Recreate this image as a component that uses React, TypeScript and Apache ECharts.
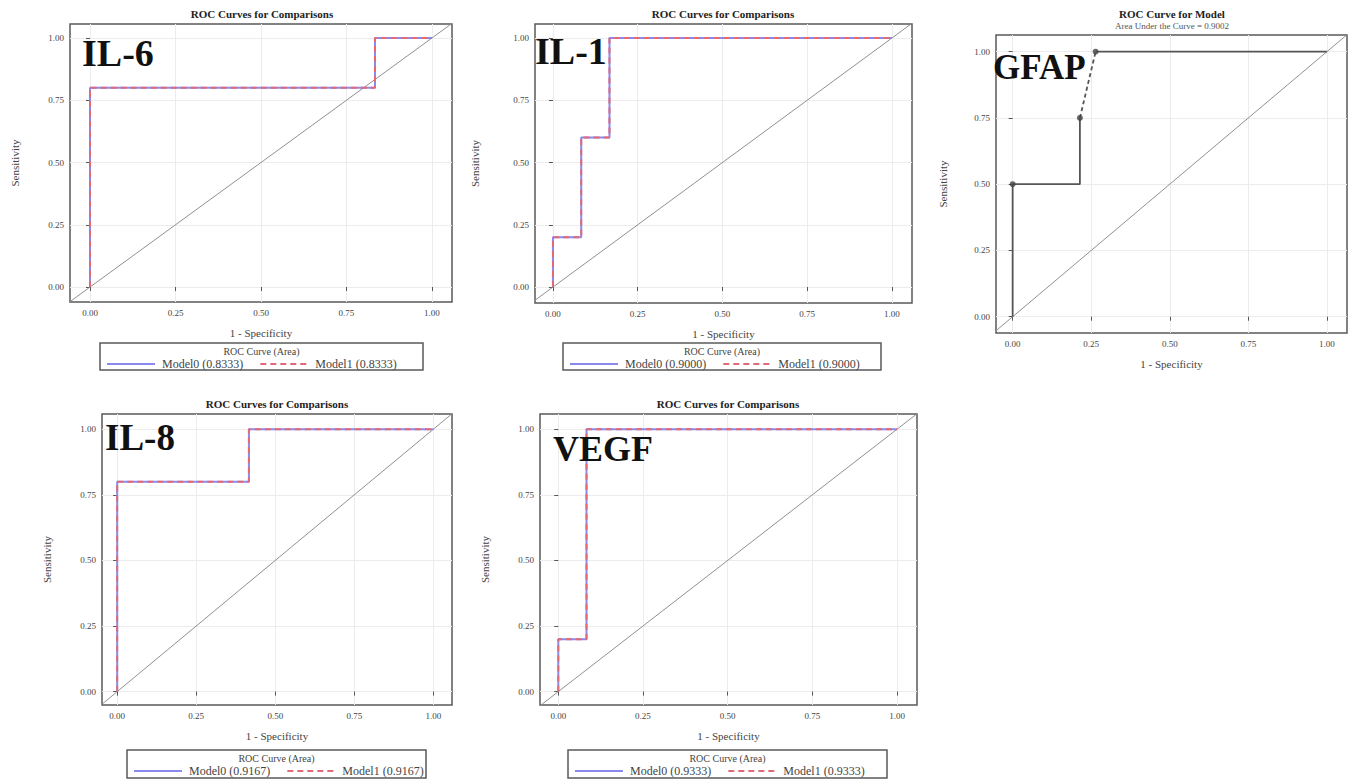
import React, { useEffect, useRef } from "react";
import * as echarts from "echarts";

// ---- data ----
const tickValues = [0, 0.25, 0.5, 0.75, 1];
const tickLabels = ["0.00", "0.25", "0.50", "0.75", "1.00"];

const il6Fpr = [0, 0, 0.8333, 0.8333, 1];
const il6Tpr = [0, 0.8, 0.8, 1, 1];
const il6Auc = "0.8333";

const il1Fpr = [0, 0, 0.0833, 0.0833, 0.1667, 0.1667, 1];
const il1Tpr = [0, 0.2, 0.2, 0.6, 0.6, 1, 1];
const il1Auc = "0.9000";

const il8Fpr = [0, 0, 0.4167, 0.4167, 1];
const il8Tpr = [0, 0.8, 0.8, 1, 1];
const il8Auc = "0.9167";

const vegfFpr = [0, 0, 0.0833, 0.0833, 1];
const vegfTpr = [0, 0.2, 0.2, 1, 1];
const vegfAuc = "0.9333";

const gfapFpr = [0, 0, 0.214, 0.214, 0.264, 1];
const gfapTpr = [0, 0.5, 0.5, 0.75, 1, 1];
const gfapAucText = "Area Under the Curve = 0.9002";

const compTitle = "ROC Curves for Comparisons";
const gfapTitle = "ROC Curve for Model";
const legendHeader = "ROC Curve (Area)";
const xName = "1 - Specificity";
const yName = "Sensitivity";

// ---- layout ----
const SERIF = "'Liberation Serif', 'Times New Roman', serif";
const BLUE = "#8a8aee";
const RED = "#e06a78";

type Panel = {
  label: string;
  fpr: number[];
  tpr: number[];
  auc?: string;
  grid: { left: number; top: number; width: number; height: number };
  x: [number, number];
  y: [number, number];
  titleX: number;
  titleY: number;
  labelX: number;
  labelY: number;
  labelSize: number;
  legendBox?: { x: number; y: number; w: number; h: number };
  yNameGap: number;
};

const panels: Panel[] = [
  {
    label: "IL-6", fpr: il6Fpr, tpr: il6Tpr, auc: il6Auc,
    grid: { left: 70, top: 24, width: 382, height: 278 },
    x: [-0.0585, 1.0585], y: [-0.06, 1.056],
    titleX: 262, titleY: 14, labelX: 82, labelY: 53, labelSize: 38,
    legendBox: { x: 100, y: 343, w: 323, h: 27 }, yNameGap: 50,
  },
  {
    label: "IL-1", fpr: il1Fpr, tpr: il1Tpr, auc: il1Auc,
    grid: { left: 535, top: 24, width: 377, height: 279 },
    x: [-0.053, 1.059], y: [-0.064, 1.056],
    titleX: 723, titleY: 14, labelX: 535, labelY: 51, labelSize: 38,
    legendBox: { x: 563, y: 343, w: 318, h: 27 }, yNameGap: 55,
  },
  {
    label: "GFAP", fpr: gfapFpr, tpr: gfapTpr,
    grid: { left: 996, top: 35, width: 351, height: 298 },
    x: [-0.053, 1.064], y: [-0.0615, 1.063],
    titleX: 1172, titleY: 14, labelX: 993, labelY: 67, labelSize: 35,
    yNameGap: 48,
  },
  {
    label: "IL-8", fpr: il8Fpr, tpr: il8Tpr, auc: il8Auc,
    grid: { left: 102, top: 414, width: 350, height: 291 },
    x: [-0.048, 1.059], y: [-0.051, 1.058],
    titleX: 277, titleY: 404, labelX: 105, labelY: 437, labelSize: 37,
    legendBox: { x: 127, y: 750, w: 299, h: 28 }, yNameGap: 50,
  },
  {
    label: "VEGF", fpr: vegfFpr, tpr: vegfTpr, auc: vegfAuc,
    grid: { left: 540, top: 414, width: 377, height: 291 },
    x: [-0.054, 1.059], y: [-0.051, 1.058],
    titleX: 728, titleY: 404, labelX: 553, labelY: 449, labelSize: 36,
    legendBox: { x: 568, y: 750, w: 319, h: 28 }, yNameGap: 50,
  },
];

const fmt = (v: number) => {
  const i = tickValues.findIndex((t) => Math.abs(t - v) < 1e-9);
  return i >= 0 ? tickLabels[i] : "";
};

const toPairs = (xs: number[], ys: number[]) => xs.map((x, i) => [x, ys[i]]);

function buildOption() {
  const grids: any[] = [];
  const xAxes: any[] = [];
  const yAxes: any[] = [];
  const series: any[] = [];
  const legends: any[] = [];
  const graphics: any[] = [];

  panels.forEach((p, i) => {
    grids.push({
      ...p.grid,
      show: true,
      borderColor: "#5a5a5a",
      borderWidth: 1.5,
      backgroundColor: "#fff",
      containLabel: false,
    });
    const axisCommon = {
      gridIndex: i,
      type: "value",
      axisLine: { show: false },
      axisTick: {
        show: true,
        customValues: tickValues,
        length: 4,
        inside: false,
        lineStyle: { color: "#555", width: 1 },
      },
      axisLabel: {
        customValues: tickValues,
        formatter: fmt,
        fontFamily: SERIF,
        fontSize: 9,
        color: "#444",
        margin: 6,
      },
      splitLine: { show: true, lineStyle: { color: "#ececec", width: 1 } },
      nameTextStyle: { fontFamily: SERIF, fontSize: 11, color: "#444" },
    };
    xAxes.push({
      ...axisCommon,
      min: p.x[0],
      max: p.x[1],
      name: xName,
      nameLocation: "middle",
      nameGap: 25,
    });
    yAxes.push({
      ...axisCommon,
      min: p.y[0],
      max: p.y[1],
      name: yName,
      nameLocation: "middle",
      nameRotate: 90,
      nameGap: p.yNameGap,
    });

    // diagonal reference
    series.push({
      name: `ref-${p.label}`,
      type: "line",
      xAxisIndex: i,
      yAxisIndex: i,
      data: [
        [Math.min(p.x[0], p.y[0]), Math.min(p.x[0], p.y[0])],
        [Math.max(p.x[1], p.y[1]), Math.max(p.x[1], p.y[1])],
      ],
      symbol: "none",
      clip: true,
      silent: true,
      lineStyle: { color: "#909090", width: 1 },
      z: 2,
    });

    if (p.auc) {
      const n0 = `Model0 (${p.auc})`;
      const n1 = `Model1 (${p.auc})`;
      const pts = toPairs(p.fpr, p.tpr);
      series.push({
        name: n0,
        type: "line",
        xAxisIndex: i,
        yAxisIndex: i,
        data: pts,
        symbol: "none",
        lineStyle: { color: BLUE, width: 2 },
        itemStyle: { color: BLUE },
        z: 3,
      });
      series.push({
        name: n1,
        type: "line",
        xAxisIndex: i,
        yAxisIndex: i,
        data: pts,
        symbol: "none",
        lineStyle: { color: RED, width: 2, type: [6, 4] },
        itemStyle: { color: RED },
        z: 4,
      });
      const b = p.legendBox!;
      legends.push({
        data: [n0, n1],
        left: b.x + 6,
        top: b.y + 15,
        orient: "horizontal",
        itemWidth: 48,
        itemHeight: 8,
        itemGap: 16,
        padding: 0,
        selectedMode: false,
        itemStyle: { opacity: 0 },
        textStyle: { fontFamily: SERIF, fontSize: 12, color: "#444", padding: [0, 0, 0, 2] },
      });
      graphics.push({
        type: "rect",
        shape: { x: b.x, y: b.y, width: b.w, height: b.h },
        style: { fill: "none", stroke: "#5a5a5a", lineWidth: 1.5 },
        z: 1,
      });
      graphics.push({
        type: "text",
        x: b.x + b.w / 2,
        y: b.y + 8,
        style: {
          text: legendHeader,
          align: "center",
          verticalAlign: "middle",
          font: `10px ${SERIF}`,
          fill: "#444",
        },
      });
      graphics.push({
        type: "text",
        x: p.titleX,
        y: p.titleY,
        style: {
          text: compTitle,
          align: "center",
          verticalAlign: "middle",
          font: `bold 11px ${SERIF}`,
          fill: "#222",
        },
      });
    } else {
      // GFAP: single model with a tied (diagonal, dashed) segment
      const pts = toPairs(p.fpr, p.tpr);
      const gcol = "#555";
      series.push({
        name: "gfap-a",
        type: "line",
        xAxisIndex: i,
        yAxisIndex: i,
        data: pts.slice(0, 4),
        symbol: "none",
        lineStyle: { color: gcol, width: 1.8 },
        z: 3,
      });
      series.push({
        name: "gfap-b",
        type: "line",
        xAxisIndex: i,
        yAxisIndex: i,
        data: pts.slice(3, 5),
        symbol: "none",
        lineStyle: { color: gcol, width: 1.8, type: [4, 3] },
        z: 3,
      });
      series.push({
        name: "gfap-c",
        type: "line",
        xAxisIndex: i,
        yAxisIndex: i,
        data: pts.slice(4),
        symbol: "none",
        lineStyle: { color: gcol, width: 1.8 },
        z: 3,
      });
      series.push({
        name: "gfap-pts",
        type: "scatter",
        xAxisIndex: i,
        yAxisIndex: i,
        data: [pts[1], pts[3], pts[4]],
        symbol: "circle",
        symbolSize: 6,
        itemStyle: { color: "#444" },
        z: 5,
      });
      graphics.push({
        type: "text",
        x: p.titleX,
        y: p.titleY,
        style: {
          text: gfapTitle,
          align: "center",
          verticalAlign: "middle",
          font: `bold 11px ${SERIF}`,
          fill: "#222",
        },
      });
      graphics.push({
        type: "text",
        x: p.titleX,
        y: p.titleY + 12,
        style: {
          text: gfapAucText,
          align: "center",
          verticalAlign: "middle",
          font: `9px ${SERIF}`,
          fill: "#555",
        },
      });
    }

    graphics.push({
      type: "text",
      x: p.labelX,
      y: p.labelY,
      z: 10,
      style: {
        text: p.label,
        align: "left",
        verticalAlign: "middle",
        font: `bold ${p.labelSize}px 'Liberation Serif', serif`,
        fill: "#111",
      },
    });
  });

  return {
    animation: false,
    backgroundColor: "#fff",
    grid: grids,
    xAxis: xAxes,
    yAxis: yAxes,
    series,
    legend: legends,
    graphic: { elements: graphics },
  };
}

export default function App() {
  const ref = useRef<HTMLDivElement>(null);
  useEffect(() => {
    if (!ref.current) return;
    const chart = echarts.init(ref.current, undefined, { renderer: "svg" });
    chart.setOption(buildOption() as any);
    return () => chart.dispose();
  }, []);
  return (
    <div
      ref={ref}
      style={{ position: "absolute", left: 0, top: 0, width: 1355, height: 783, background: "#fff" }}
    />
  );
}
